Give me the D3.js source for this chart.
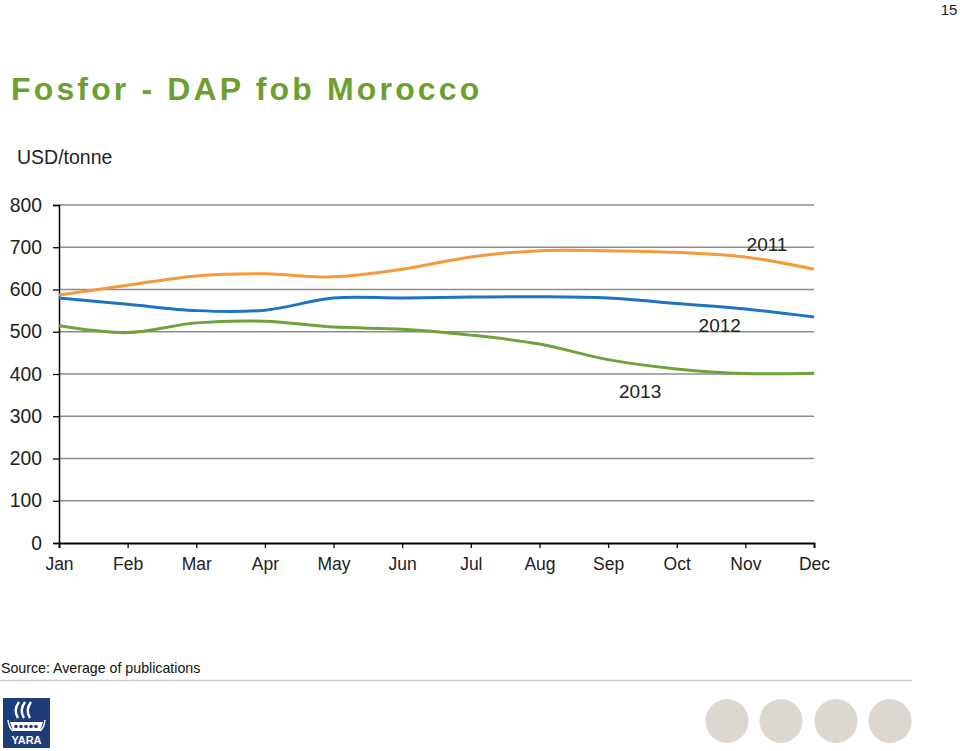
<!DOCTYPE html>
<html><head><meta charset="utf-8">
<script src="https://cdn.jsdelivr.net/npm/d3@7"></script>
<style>body{margin:0;background:#fff}svg{display:block;font-family:"Liberation Sans",Arial,sans-serif}</style>
</head><body>
<svg id="c" width="960" height="751"></svg>
<script>
const months = ["Jan","Feb","Mar","Apr","May","Jun","Jul","Aug","Sep","Oct","Nov","Dec"];
const yTicks = [0,100,200,300,400,500,600,700,800];
const s2011 = [587,610,632,637,630,648,677,692,692,688,677,648];
const s2012 = [580,565,550,551,580,580,582,583,580,567,554,535];
const s2013 = [514,498,521,525,511,506,492,471,434,412,401,402];
const seriesNames = ["2011","2012","2013"];
const seriesColors = ["#f39a3b","#1f74c1","#70a23b"];
const seriesLabelPos = [[11,676],[9,524],[8,368]]; // [month index, value] anchor for label
const series = [s2011,s2012,s2013];

const svg = d3.select("#c");
const x = d3.scalePoint().domain(months).range([59,814]);
const y = d3.scaleLinear().domain([0,800]).range([543,205]);

// title
svg.append("text").attr("x",11).attr("y",100).attr("fill","#6e9f32")
  .attr("font-size",32).attr("font-weight","bold").attr("letter-spacing",3.15)
  .text("Fosfor - DAP fob Morocco");
svg.append("text").attr("x",949).attr("y",15).attr("text-anchor","middle").attr("font-size",15).attr("fill","#222").text("15");
svg.append("text").attr("x",17).attr("y",164).attr("font-size",19.5).attr("fill","#222").text("USD/tonne");

// gridlines
svg.append("g").selectAll("line").data(yTicks.filter(d=>d>0)).join("line")
  .attr("x1",59).attr("x2",814).attr("y1",d=>y(d)).attr("y2",d=>y(d))
  .attr("stroke","#8c8c8c").attr("stroke-width",1.3);

// y axis
const ya = svg.append("g").attr("transform","translate(59,0)")
  .call(d3.axisLeft(y).tickValues(yTicks).tickSize(6).tickPadding(11));
ya.select(".domain").attr("stroke","#000").attr("stroke-width",1.5);
ya.selectAll(".tick line").attr("stroke","#000").attr("stroke-width",1.3);
ya.selectAll(".tick text").attr("font-size",19.3).attr("fill","#222").attr("font-family","Liberation Sans, Arial, sans-serif");

// x axis
const xa = svg.append("g").attr("transform","translate(0,543)")
  .call(d3.axisBottom(x).tickSize(5).tickPadding(10));
xa.select(".domain").attr("stroke","#000").attr("stroke-width",1.8);
xa.selectAll(".tick line").attr("stroke","#000").attr("stroke-width",1.3);
xa.selectAll(".tick text").attr("font-size",17.5).attr("fill","#222").attr("font-family","Liberation Sans, Arial, sans-serif");

// lines
const line = d3.line().x((d,i)=>x(months[i])).y(d=>y(d)).curve(d3.curveCatmullRom.alpha(0.5));
series.forEach((s,k)=>{
  svg.append("path").datum(s).attr("d",line).attr("fill","none")
    .attr("stroke",seriesColors[k]).attr("stroke-width",3);
});

// series labels
const labelOffsets = [[-47,-6],[43,10],[32,10]];
series.forEach((s,k)=>{
  const [mi,v] = seriesLabelPos[k];
  svg.append("text").attr("x",x(months[mi])+labelOffsets[k][0]).attr("y",y(v)+labelOffsets[k][1])
    .attr("text-anchor","middle").attr("font-size",19).attr("fill","#222")
    .text(seriesNames[k]);
});

// footer
svg.append("text").attr("x",1).attr("y",673).attr("font-size",14.2).attr("fill","#111").text("Source: Average of publications");
svg.append("line").attr("x1",0).attr("x2",912).attr("y1",680.5).attr("y2",680.5).attr("stroke","#cfcfcf").attr("stroke-width",1.5);

// logo
const lg = svg.append("g").attr("transform","translate(3,698)");
lg.append("rect").attr("width",47).attr("height",50).attr("fill","#1f3c7a");
[0,6,12].forEach(dx=>{
  lg.append("path").attr("d",`M${15+dx},20 Q${10+dx},12 ${16+dx},4`).attr("fill","none").attr("stroke","#fff").attr("stroke-width",2.4);
});
lg.append("path").attr("d","M7,24 L40,24 L37,33 L10,33 Z").attr("fill","#fff");
lg.append("path").attr("d","M5,22 Q6,30 10,33 M42,22 Q41,30 37,33").attr("fill","none").attr("stroke","#fff").attr("stroke-width",1.5);
[12,17,22,27,32].forEach(cx=>lg.append("circle").attr("cx",cx+1).attr("cy",28.5).attr("r",1.8).attr("fill","#1f3c7a"));
lg.append("text").attr("x",23.5).attr("y",46).attr("text-anchor","middle").attr("font-size",11).attr("font-weight","bold").attr("fill","#fff").text("YARA");

// circles
const circleX = [727,781,836,890];
svg.append("g").selectAll("ellipse").data(circleX).join("ellipse")
  .attr("cx",d=>d).attr("cy",721).attr("rx",21.5).attr("ry",22).attr("fill","#ddd7d2");
</script>
</body></html>
